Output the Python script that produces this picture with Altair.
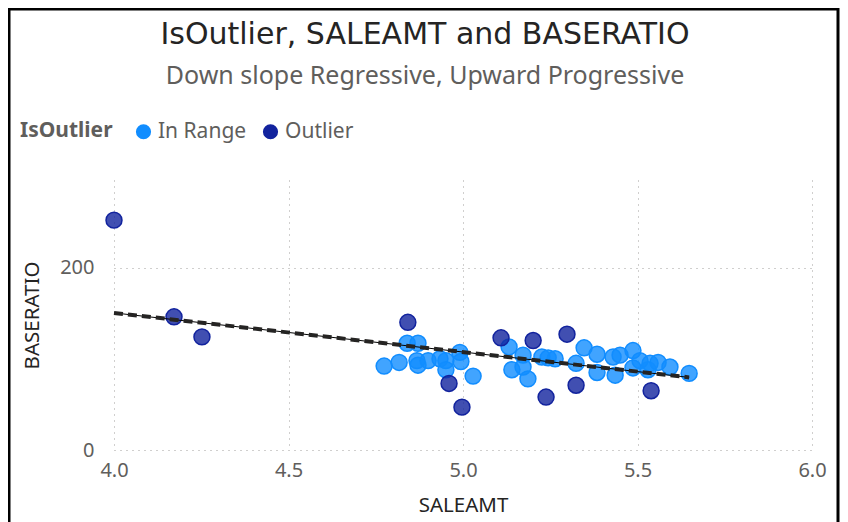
import altair as alt
import pandas as pd

# ---- data ----
in_range_x = [4.774, 4.817, 4.840, 4.871, 4.868, 4.871, 4.900, 4.934, 4.951, 4.951,
              4.991, 4.994, 5.029, 5.132, 5.140, 5.172, 5.172, 5.186, 5.226, 5.244,
              5.264, 5.324, 5.347, 5.384, 5.384, 5.436, 5.430, 5.450, 5.487, 5.487,
              5.507, 5.530, 5.536, 5.559, 5.593, 5.648]
in_range_y = [92, 96, 117, 117, 98, 93, 98, 100, 98, 88,
              107, 97, 81, 113, 88, 104, 91, 78, 102, 101,
              100, 95, 112, 105, 85, 82, 102, 104, 109, 90,
              98, 88, 95, 96, 91, 84]
outlier_x = [4.000, 4.172, 4.252, 4.842, 4.960, 4.997, 5.109, 5.201, 5.238, 5.298, 5.324, 5.539]
outlier_y = [252, 146, 124, 140, 73, 47, 123, 120, 58, 127, 71, 65]
trend_x = [4.0, 5.648]
trend_y = [150.3, 79.6]

categories = ["In Range", "Outlier"]
colors = ["#118DFF", "#12239E"]
x_ticks = [4.0, 4.5, 5.0, 5.5, 6.0]
y_ticks = [0, 200]

pts = pd.DataFrame({
    "SALEAMT": in_range_x + outlier_x,
    "BASERATIO": in_range_y + outlier_y,
    "IsOutlier": ["In Range"] * len(in_range_x) + ["Outlier"] * len(outlier_x),
    "order": [0] * len(in_range_x) + [1] * len(outlier_x),
})
trend = pd.DataFrame({"SALEAMT": trend_x, "BASERATIO": trend_y})
frame = pd.DataFrame({"k": [0]})

W, H = 698, 270
PL, PT = 106, 172
CW, CH = 832, 514

xs = alt.Scale(domain=[4.0, 6.0], nice=False)
ys = alt.Scale(domain=[0, 296], nice=False)

xaxis = alt.Axis(values=x_ticks, format=".1f", title="SALEAMT", grid=True, labelFlush=False,
                 gridDash=[1, 5], gridColor="#A19F9D", domain=False, ticks=False,
                 labelFontSize=20, labelColor="#605E5C", labelPadding=10,
                 titleFontSize=20.5, titleColor="#252423", titleFontWeight="normal",
                 titlePadding=15, labelFont="Noto Sans", titleFont="Noto Sans")
yaxis = alt.Axis(values=y_ticks, title="BASERATIO", grid=True, labelFlush=False,
                 gridDash=[1, 5], gridColor="#A19F9D", domain=False, ticks=False,
                 labelFontSize=20, labelColor="#605E5C", labelPadding=20,
                 titleFontSize=20.5, titleColor="#252423", titleFontWeight="normal",
                 titlePadding=17, labelFont="Noto Sans", titleFont="Noto Sans")

color_scale = alt.Scale(domain=categories, range=colors)

points = alt.Chart(pts).mark_circle(size=254, fillOpacity=0.8, strokeWidth=1.5, strokeOpacity=1).encode(
    x=alt.X("SALEAMT:Q", scale=xs, axis=xaxis),
    y=alt.Y("BASERATIO:Q", scale=ys, axis=yaxis),
    color=alt.Color("IsOutlier:N", scale=color_scale,
                    legend=alt.Legend(title="IsOutlier", orient="none", legendX=-94, legendY=-59,
                                      direction="horizontal", titleOrient="left",
                                      titleFontSize=21, titleFontWeight="bold", titleColor="#605E5C",
                                      titleFont="Noto Sans", labelFont="Noto Sans",
                                      labelFontSize=21, labelColor="#605E5C",
                                      symbolType="circle", symbolSize=230, symbolOpacity=1,
                                      symbolStrokeWidth=0, labelOffset=4, columnPadding=13,
                                      titlePadding=20)),
    stroke=alt.Stroke("IsOutlier:N", scale=color_scale, legend=None),
    order=alt.Order("order:Q"),
)

trend_solid = alt.Chart(trend).mark_line(color="#000000", strokeWidth=1).encode(
    x=alt.X("SALEAMT:Q", scale=xs), y=alt.Y("BASERATIO:Q", scale=ys))
trend_dash = alt.Chart(trend).mark_line(color="#252423", strokeWidth=4, strokeDash=[9, 5]).encode(
    x=alt.X("SALEAMT:Q", scale=xs), y=alt.Y("BASERATIO:Q", scale=ys))

frame_top = alt.Chart(frame).mark_rule(color="black", strokeWidth=3).encode(
    x=alt.value(-PL), x2=alt.value(CW - PL - 1), y=alt.value(-PT + 1))
frame_left = alt.Chart(frame).mark_rule(color="black", strokeWidth=3).encode(
    x=alt.value(-PL + 1), y=alt.value(-PT), y2=alt.value(CH - PT))
frame_right = alt.Chart(frame).mark_rule(color="black", strokeWidth=3).encode(
    x=alt.value(CW - PL - 2), y=alt.value(-PT), y2=alt.value(CH - PT))

chart = alt.layer(points, trend_solid, trend_dash, frame_top, frame_left, frame_right).properties(
    width=W, height=H,
    padding={"left": PL, "top": PT, "right": CW - PL - W, "bottom": CH - PT - H},
    autosize=alt.AutoSizeParams(type="none"),
    title=alt.TitleParams(
        text="IsOutlier, SALEAMT and BASERATIO",
        subtitle="Down slope Regressive, Upward Progressive",
        anchor="middle", frame="group", dx=-38,
        font="DejaVu Sans", fontSize=30, fontWeight="normal", color="#252423",
        subtitleFont="Noto Sans", subtitleFontSize=25, subtitleColor="#605E5C",
        subtitlePadding=14, offset=-82.5,
    ),
).configure_view(stroke=None)

chart.save("out.html", embed_options={"renderer": "svg", "actions": False})
